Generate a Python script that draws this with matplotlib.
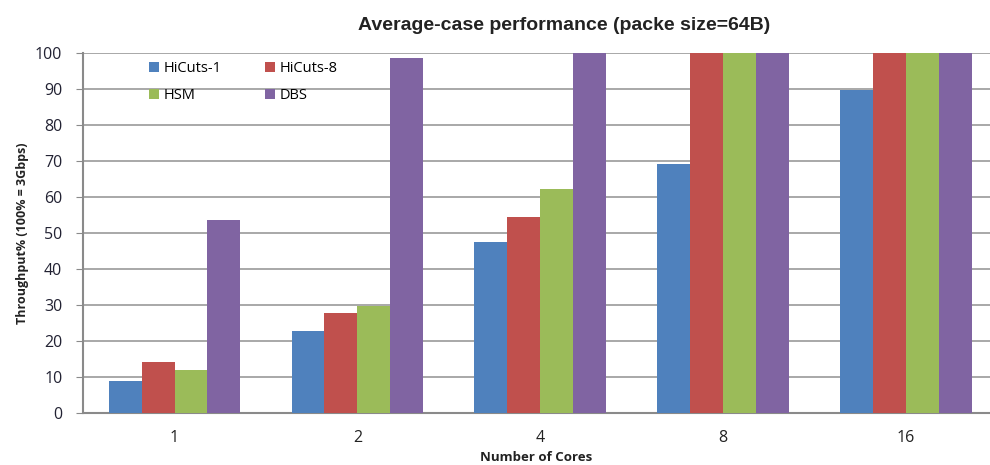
import matplotlib
matplotlib.use("Agg")
import matplotlib.pyplot as plt
import numpy as np

categories = ["1", "2", "4", "8", "16"]
series_names = ["HiCuts-1", "HiCuts-8", "HSM", "DBS"]
hicuts1 = [8.9, 22.8, 47.5, 69.2, 89.7]
hicuts8 = [14.2, 27.8, 54.4, 100, 100]
hsm = [12.0, 29.7, 62.2, 100, 100]
dbs = [53.6, 98.6, 100, 100, 100]
colors = ["#4F81BD", "#C0504D", "#9BBB59", "#8064A2"]
yticks = list(range(0, 101, 10))

plt.rcParams['font.family'] = ['Open Sans', 'DejaVu Sans']

fig = plt.figure(figsize=(9.9, 4.65), dpi=100)
ax = fig.add_axes([0.084, 0.112, 0.916, 0.774])

x = np.arange(len(categories))
w = 0.18
handles = []
for i, (vals, name) in enumerate(zip([hicuts1, hicuts8, hsm, dbs], series_names)):
    h = ax.bar(x + (i - 1.5) * w, vals, width=w, color=colors[i], label=name, zorder=3)
    handles.append(h)

ax.set_ylim(0, 100)
ax.set_xlim(-0.5, 4.46)
ax.set_yticks(yticks)
ax.set_xticks(x)
ax.set_xticklabels(categories)
ax.yaxis.grid(True, color="#9a9a9a", linewidth=1.2, zorder=0)
for s in ["top", "right"]:
    ax.spines[s].set_visible(False)
for s in ["left", "bottom"]:
    ax.spines[s].set_color("#8a8a8a")
    ax.spines[s].set_linewidth(1.5)
ax.tick_params(axis="x", length=0, pad=12, labelsize=11.5, labelcolor="#222222")
ax.tick_params(axis="y", length=5, color="#8a8a8a", labelsize=11.5, labelcolor="#222233", pad=10)

ax.set_ylabel("Throughput% (100% = 3Gbps)", fontsize=9, fontweight="bold", color="#222222", labelpad=4)
ax.set_xlabel("Number of Cores", fontsize=9.5, fontweight="bold", color="#222222", labelpad=4)
fig.text(0.57, 0.945, "Average-case performance (packe size=64B)", ha="center", va="center",
         fontsize=14, fontweight="bold", color="#222222", family=['Liberation Sans', 'DejaVu Sans'])

order = [0, 2, 1, 3]
ax.legend([handles[i] for i in order], [series_names[i] for i in order],
          loc="upper left", bbox_to_anchor=(0.058, 1.015), ncol=2, frameon=False,
          fontsize=10.5, handlelength=0.7, handleheight=0.7, handletextpad=0.3,
          columnspacing=3.0, labelspacing=0.85)

fig.savefig("out.png", dpi=100)
